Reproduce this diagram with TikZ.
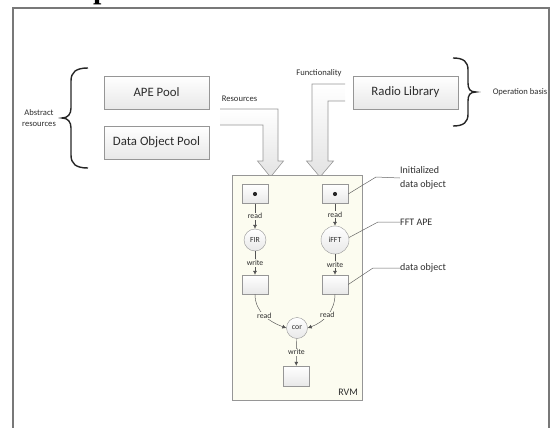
\documentclass[tikz,border=0pt]{standalone}
\usepackage{fontspec}
\setmainfont{Carlito}
\newfontfamily\headfont{Liberation Serif}
\usetikzlibrary{arrows.meta}
\definecolor{rvmfill}{RGB}{252,252,240}
\definecolor{edge}{RGB}{150,150,150}
\definecolor{txt}{RGB}{45,45,45}
\definecolor{framec}{RGB}{120,120,120}
\tikzset{
  pool/.style={draw=edge, top color=white, bottom color=gray!18, minimum width=105pt, minimum height=33pt, inner sep=0pt, text=txt, font=\fontsize{12.8}{14}\selectfont},
  blockarrow/.style={draw=edge, line width=0.6pt, top color=white, bottom color=gray!22},
  small/.style={text=txt, font=\fontsize{8.6}{11}\selectfont, inner sep=0pt},
  note/.style={text=txt, font=\fontsize{10}{14}\selectfont, inner sep=0pt, anchor=west, align=left},
  rvmbox/.style={draw=edge, fill=rvmfill, line width=0.7pt},
  dbox/.style={draw=edge, top color=white, bottom color=gray!18, minimum width=26pt, minimum height=19pt, inner sep=0pt},
  apecirc/.style={circle, draw=edge, top color=white, bottom color=gray!18, inner sep=0pt, text=txt, font=\fontsize{7.8}{9}\selectfont},
  flow/.style={draw=gray!65!black, line width=0.45pt, -{Latex[length=4pt,width=4pt]}},
  lbl/.style={fill=rvmfill, inner sep=0.8pt, text=txt, font=\fontsize{7.8}{9}\selectfont},
  callout/.style={draw=gray!80!black, line width=0.5pt},
  bracestyle/.style={draw=gray!30!black, line width=1.4pt}
}
\begin{document}
\begin{tikzpicture}[x=1pt,y=-1pt]
\useasboundingbox (0,0) rectangle (552,428);
\clip (0,0) rectangle (552,428);
% heading fragment
\node[anchor=base west, inner sep=0pt, font=\headfont\bfseries\fontsize{30}{30}\selectfont] (head) at (93,-1) {p};
% outer frame
\draw[framec, line width=2pt] (12.5,8.5) rectangle (548.5,460);
% braces
\draw[bracestyle] (88,68) .. controls (76,68) and (71,72) .. (71,81) -- (71,108) .. controls (71,114) and (68,118) .. (62,118) .. controls (68,118) and (71,122) .. (71,128) -- (71,155) .. controls (71,164) and (76,168) .. (88,168);
\draw[bracestyle] (453,58) .. controls (464,58) and (468,62) .. (468,70) -- (468,83) .. controls (468,89) and (470,92) .. (476,92) .. controls (470,92) and (468,95) .. (468,101) -- (468,114) .. controls (468,122) and (464,126) .. (453,126);
\node[small, align=center] (abs) at (39,118) {Abstract\\resources};
\node[small] (opb) at (520,92) {Operation basis};
% pools
\node[pool] (ape) at (156.5,92.5) {APE Pool};
\node[pool] (dop) at (156.5,142.5) {Data Object Pool};
\node[pool] (radio) at (405.5,92.5) {Radio Library};
% block arrows
\path[blockarrow] (220,109) -- (278,109) -- (278,161) -- (283.5,161) -- (270.5,177) -- (257.5,161) -- (263,161) -- (263,125) -- (220,125);
\path[blockarrow] (345,84) -- (312,84) -- (312,161) -- (306.5,161) -- (320,177) -- (333.5,161) -- (328,161) -- (328,101) -- (345,101);
\node[small] (res) at (239.5,99) {Resources};
\node[small] (func) at (319,73) {Functionality};
% RVM
\node[rvmbox, minimum width=130pt, minimum height=225pt, inner sep=0pt] (rvm) at (297,287.5) {};
\node[text=txt, font=\fontsize{10}{12}\selectfont, anchor=south east, inner sep=0pt] (rvml) at (358,396) {RVM};
\node[dbox] (d1) at (255,194) {};
\node[dbox] (d2) at (335,194) {};
\fill[black!85] (d1.center) circle (2.1);
\fill[black!85] (d2.center) circle (2.1);
\node[apecirc, minimum size=22pt] (fir) at (255,240) {FIR};
\node[apecirc, minimum size=28pt] (ifft) at (335,240) {iFFT};
\node[dbox] (o1) at (255,284.5) {};
\node[dbox] (o2) at (335,284.5) {};
\node[apecirc, minimum size=21pt] (cor) at (297,328) {cor};
\node[dbox, minimum height=20pt] (o3) at (296,376) {};
\draw[flow] (d1) -- node[lbl, pos=0.5] {read} (fir);
\draw[flow] (d2) -- node[lbl, pos=0.5] {read} (ifft);
\draw[flow] (fir) -- node[lbl, pos=0.5] {write} (o1);
\draw[flow] (ifft) -- node[lbl, pos=0.5] {write} (o2);
\draw[flow] (o1.south) to[out=-90, in=160] node[lbl, pos=0.5] {read} (cor.west);
\draw[flow] (o2.south) to[out=-90, in=20] node[lbl, pos=0.5] {read} (cor.east);
\draw[flow] (cor) -- node[lbl, pos=0.5] {write} (o3);
% callouts
\node[note] (init) at (400,178) {Initialized\\data object};
\node[note] (fft) at (400,222) {FFT APE};
\node[note] (dobj) at (400,268) {data object};
\draw[callout] (d2.east) -- (376,177) -- (init.west);
\draw[callout] (ifft.10) -- (378,222) -- (fft.west);
\draw[callout] (o2.east) -- (373,268) -- (dobj.west);
\end{tikzpicture}
\end{document}
